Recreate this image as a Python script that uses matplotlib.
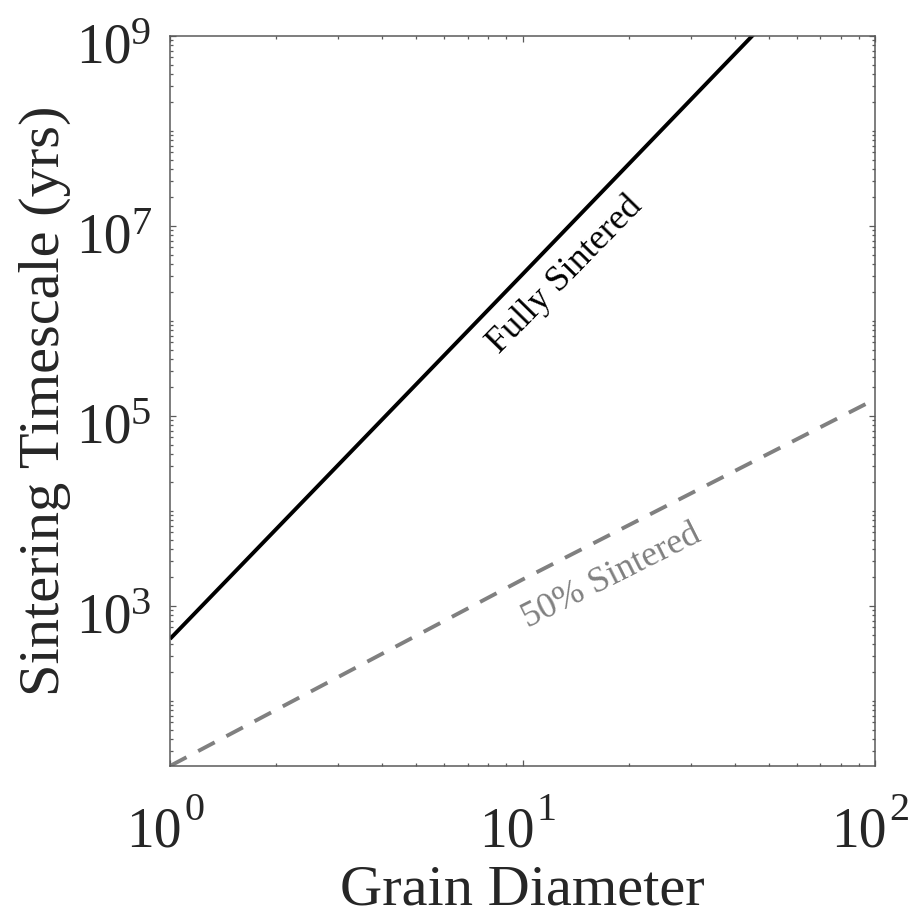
import matplotlib
matplotlib.use('Agg')
import matplotlib.pyplot as plt
import matplotlib.transforms as mtransforms
import numpy as np
from matplotlib.ticker import LogLocator, FixedLocator, NullFormatter

# values (log-log straight lines)
grain_diameter = [1, 10, 100]
fully_sintered = [450, 3.1e6, 2.2e10]
half_sintered = [20.7, 1.9e3, 1.5e5]

x_ticks = [1, 10, 100]
y_ticks = [1e3, 1e5, 1e7, 1e9]
y_range = [20.7, 1e9]

plt.rcParams['font.family'] = ['Liberation Serif', 'DejaVu Serif']

DPI = 100
fig = plt.figure(figsize=(9.13, 9.18), dpi=DPI)
ax = fig.add_axes([0.1862, 0.1656, 0.7722, 0.7952])

ax.plot(grain_diameter, fully_sintered, color='black', lw=2.8, solid_capstyle='butt')
ax.plot(grain_diameter, half_sintered, color='#808080', lw=2.8, dashes=(4.8, 3.4))

ax.set_xscale('log')
ax.set_yscale('log')
ax.set_xlim(1, 100)
ax.set_ylim(*y_range)

ax.xaxis.set_major_locator(FixedLocator(x_ticks))
ax.yaxis.set_major_locator(FixedLocator(y_ticks))
ax.xaxis.set_minor_locator(LogLocator(base=10, subs=np.arange(1, 10), numticks=50))
ax.yaxis.set_minor_locator(LogLocator(base=10, subs=np.arange(1, 10), numticks=50))
for axis in (ax.xaxis, ax.yaxis):
    axis.set_major_formatter(NullFormatter())
    axis.set_minor_formatter(NullFormatter())

spine_col = '#5a5a5a'
txt_col = '#262626'
for s in ax.spines.values():
    s.set_color(spine_col)
    s.set_linewidth(1.1)
ax.tick_params(which='both', direction='in', top=True, right=True, color=spine_col, width=0.9)
ax.tick_params(which='major', length=4.3)
ax.tick_params(which='minor', length=2.4)


def px(v):
    return v * 72.0 / DPI


# tick labels as "10" with a raised exponent (MATLAB look)
xform_x = mtransforms.blended_transform_factory(ax.transData, ax.transAxes)
for v in x_ticks:
    e = int(round(np.log10(v)))
    t1 = mtransforms.offset_copy(xform_x, fig=fig, x=px(12), y=-px(81), units='points')
    ax.text(v, 0, '10', transform=t1, fontsize=40, color=txt_col, ha='right', va='baseline')
    t2 = mtransforms.offset_copy(xform_x, fig=fig, x=px(14), y=-px(54), units='points')
    ax.text(v, 0, str(e), transform=t2, fontsize=29, color=txt_col, ha='left', va='baseline')

xform_y = mtransforms.blended_transform_factory(ax.transAxes, ax.transData)
for v in y_ticks:
    e = int(round(np.log10(v)))
    t1 = mtransforms.offset_copy(xform_y, fig=fig, x=-px(38), y=-px(27), units='points')
    ax.text(0, v, '10', transform=t1, fontsize=40, color=txt_col, ha='right', va='baseline')
    t2 = mtransforms.offset_copy(xform_y, fig=fig, x=-px(39), y=-px(8), units='points')
    ax.text(0, v, str(e), transform=t2, fontsize=29, color=txt_col, ha='left', va='baseline')

ax.set_xlabel('Grain Diameter', fontsize=42, color=txt_col, va='baseline')
ax.xaxis.set_label_coords(0.5, -(905 - 766) / 730.0)
ax.set_ylabel('Sintering Timescale (yrs)', fontsize=42, color=txt_col, va='baseline')
ax.yaxis.set_label_coords(-(170 - 59) / 705.0, 0.5)

ax.text(13.2, 3.05e6, 'Fully Sintered', fontsize=26, color='black', rotation=45.6,
        rotation_mode='anchor', ha='center', va='center')
ax.text(17.9, 2.03e3, '50% Sintered', fontsize=26, color='#808080', rotation=26.7,
        rotation_mode='anchor', ha='center', va='center')

fig.savefig('out.png', dpi=DPI)
